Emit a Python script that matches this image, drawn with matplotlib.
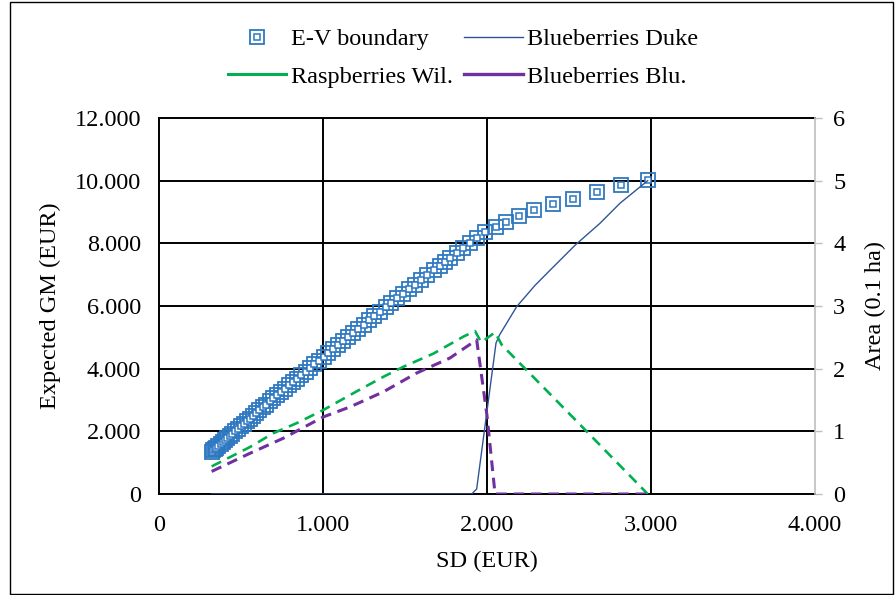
import matplotlib
matplotlib.use("Agg")
import matplotlib.pyplot as plt
from matplotlib.lines import Line2D
from matplotlib.legend_handler import HandlerTuple
from matplotlib.patches import Rectangle

plt.rcParams['font.family'] = ['Liberation Serif', 'DejaVu Serif']

# ---------------- data ----------------
ev_sd = [321, 330, 340, 350, 362, 375, 388, 402, 417, 432, 448, 464, 481, 498, 516,
         534, 553, 572, 592, 612, 633, 654, 676, 698, 721, 744, 768, 792, 817, 842,
         868, 894, 921, 948, 976, 1004, 1033, 1062, 1092, 1122, 1153, 1184, 1216,
         1248, 1281, 1314, 1348, 1382, 1417, 1452, 1488, 1524, 1561, 1598, 1636,
         1674, 1713, 1745, 1774, 1815, 1855, 1896, 1937, 1988, 2055, 2116, 2193,
         2288, 2404, 2526, 2669, 2815, 2980]
ev_gm = [1350, 1391, 1437, 1483, 1538, 1598, 1657, 1721, 1789, 1858, 1930, 2003,
         2080, 2157, 2238, 2319, 2404, 2490, 2579, 2668, 2762, 2855, 2953, 3050,
         3152, 3253, 3358, 3463, 3573, 3682, 3794, 3907, 4024, 4140, 4260, 4380,
         4503, 4627, 4754, 4881, 5011, 5141, 5275, 5408, 5545, 5681, 5821, 5960,
         6103, 6246, 6391, 6537, 6685, 6833, 6984, 7135, 7288, 7414, 7528, 7700,
         7860, 8020, 8180, 8370, 8530, 8690, 8880, 9070, 9250, 9430, 9640, 9850,
         10030]

duke_sd = [321, 1907, 1937, 2055, 2077, 2181, 2293, 2384, 2537, 2689, 2811, 2980]
duke_area = [0, 0, 0.08, 2.41, 2.54, 2.99, 3.33, 3.57, 3.97, 4.32, 4.64, 5.0]

rasp_sd = [321, 555, 697, 839, 1002, 1165, 1368, 1490, 1673, 1855, 1927, 1965,
           2049, 2090, 2540, 2980]
rasp_area = [0.44, 0.75, 0.97, 1.13, 1.34, 1.58, 1.87, 2.03, 2.24, 2.51, 2.60,
             2.42, 2.58, 2.38, 1.18, 0]

blu_sd = [321, 555, 758, 1002, 1165, 1368, 1571, 1774, 1937, 2000, 2049, 2980]
blu_area = [0.36, 0.65, 0.89, 1.23, 1.39, 1.63, 1.93, 2.17, 2.46, 1.25, 0, 0]

x_ticks = [0, 1000, 2000, 3000, 4000]
x_labels = ['0', '1.000', '2.000', '3.000', '4.000']
y_ticks = [0, 2000, 4000, 6000, 8000, 10000, 12000]
y_labels = ['0', '2.000', '4.000', '6.000', '8.000', '10.000', '12.000']
y2_ticks = [0, 1, 2, 3, 4, 5, 6]
y2_labels = ['0', '1', '2', '3', '4', '5', '6']

# ---------------- figure ----------------
W, H = 896, 595
fig = plt.figure(figsize=(W / 100, H / 100), dpi=100)
ax = fig.add_axes([159 / W, 1 - 494 / H, (815 - 159) / W, (494 - 118) / H])
ax2 = ax.twinx()

FS = 17.5
blue = '#2E78C2'

ax.set_xlim(0, 4000)
ax.set_ylim(0, 12000)
for yv in y_ticks[1:-1]:
    ax.axhline(yv, color='black', lw=1.4, zorder=1)
for xv in x_ticks[1:-1]:
    ax.axvline(xv, color='black', lw=1.4, zorder=1)

outer, = ax.plot(ev_sd, ev_gm, ls='none', marker='s', markersize=10,
                 markerfacecolor='none', markeredgecolor=blue, mew=1.3, zorder=3)
inner, = ax.plot(ev_sd, ev_gm, ls='none', marker='s', markersize=4.8,
                 markerfacecolor='white', markeredgecolor=blue, mew=1.1, zorder=3)

ax.set_xticks(x_ticks)
ax.set_xticklabels(x_labels, fontsize=FS)
ax.set_yticks(y_ticks)
ax.set_yticklabels(y_labels, fontsize=FS)
ax.tick_params(axis='x', length=0, pad=15)
ax.tick_params(axis='y', length=0, pad=13)
ax.set_xlabel('SD (EUR)', fontsize=FS, labelpad=11)
ax.set_ylabel('Expected GM (EUR)', fontsize=FS, labelpad=10)
for s in ['left', 'top', 'bottom']:
    ax.spines[s].set_color('black')
    ax.spines[s].set_linewidth(1.4)
ax.spines['right'].set_visible(False)

duke, = ax2.plot(duke_sd, duke_area, color='#2F5597', lw=1.0, zorder=4)
rasp, = ax2.plot(rasp_sd, rasp_area, color='#00B050', lw=1.9, dashes=(4, 2.6),
                 zorder=4)
blu, = ax2.plot(blu_sd, blu_area, color='#7030A0', lw=2.2, dashes=(3.5, 2.2),
                zorder=4)
ax2.set_ylim(0, 6)
ax2.set_yticks(y2_ticks)
ax2.set_yticklabels(y2_labels, fontsize=FS)
ax2.tick_params(axis='y', length=5, color='#BFBFBF', width=1, pad=8)
ax2.set_ylabel('Area (0.1 ha)', fontsize=FS, rotation=90, labelpad=14)
for s in ['left', 'top', 'bottom']:
    ax2.spines[s].set_visible(False)
ax2.spines['right'].set_color('#BFBFBF')
ax2.spines['right'].set_linewidth(1.2)

# legend (column-wise fill: col1 = E-V, Rasp; col2 = Duke, Blu)
rasp_h = Line2D([], [], color='#00B050', lw=2.2)
blu_h = Line2D([], [], color='#7030A0', lw=2.4)
leg = fig.legend([(outer, inner), rasp_h, duke, blu_h],
                 ['E-V boundary', 'Raspberries Wil.', 'Blueberries Duke',
                  'Blueberries Blu.'],
                 handler_map={tuple: HandlerTuple(ndivide=1)}, numpoints=1,
                 ncol=2, frameon=False, fontsize=FS, loc='upper left',
                 bbox_to_anchor=(216 / W, 1 - 16 / H), borderpad=0,
                 handlelength=2.4, handletextpad=0.2, columnspacing=0.45,
                 labelspacing=0.65)

# outer chart border
fig.add_artist(Rectangle((9.5 / W, 1.5 / H), (893 - 9.5) / W, (593 - 1.5) / H,
                         transform=fig.transFigure, fill=False,
                         edgecolor='black', lw=1.0))

fig.savefig('out.png', dpi=100)
